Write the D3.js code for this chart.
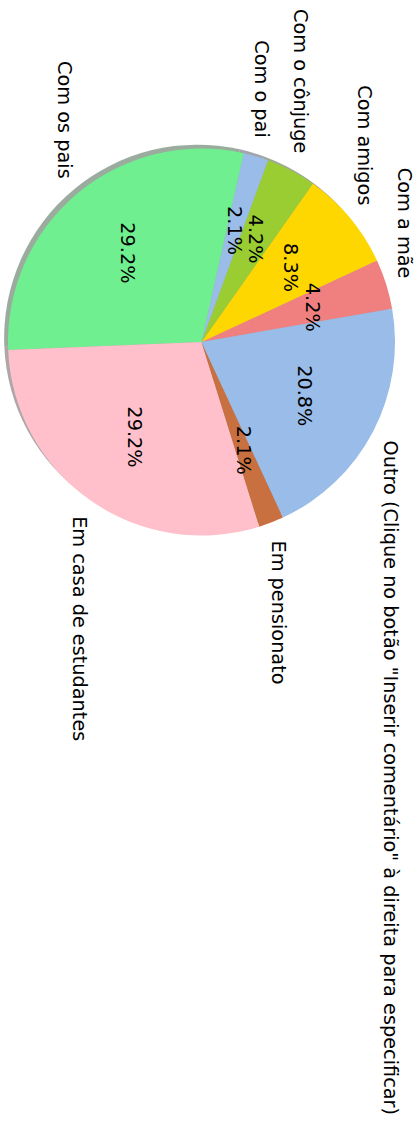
<!DOCTYPE html>
<html>
<head>
<meta charset="utf-8">
<script src="https://cdn.jsdelivr.net/npm/d3@7"></script>
<style>
  html, body { margin: 0; padding: 0; background: #ffffff; }
  svg { display: block; }
  text { font-family: "DejaVu Sans", sans-serif; fill: #000; }
</style>
</head>
<body>
<svg id="chart" width="417" height="1122"></svg>
<script>
// Where respondents live (counts of answers)
const categories = [
  "Com a mãe",
  "Com amigos",
  "Com o cônjuge",
  "Com o pai",
  "Com os pais",
  "Em casa de estudantes",
  "Em pensionato",
  "Outro (Clique no botão \"Inserir comentário\" à direita para especificar)"
];
const counts = [2, 4, 2, 1, 14, 14, 1, 10];
const sliceColors = ["#F08080", "#FFD700", "#9ACD32", "#99BCE8", "#6FEF8F", "#FFC0CB", "#C8703F", "#99BCE8"];

const W = 417, H = 1122;
const cx = 201.5, cy = 342, R = 193.5;
const fontSize = 19.3;
const deg = Math.PI / 180;

const total = d3.sum(counts);
const rows = categories.map((c, i) => ({ label: c, value: counts[i], color: sliceColors[i] }));

// The chart is drawn turned a quarter turn clockwise; slices run counter-clockwise on screen.
const start = 80.1 * deg;
const pie = d3.pie()
  .sort(null)
  .value(d => d.value)
  .startAngle(start)
  .endAngle(start - 2 * Math.PI);

const arcs = pie(rows);
const arc = d3.arc().innerRadius(0).outerRadius(R);

const svg = d3.select("#chart");
svg.append("rect").attr("width", W).attr("height", H).attr("fill", "#fff");

// Drop shadow under every wedge
const shadowOff = 0.02 * R;
const shadow = svg.append("g").attr("transform", `translate(${cx - shadowOff},${cy - shadowOff})`);
shadow.selectAll("path")
  .data(arcs)
  .join("path")
  .attr("d", arc)
  .attr("fill", d => {
    const c = d3.rgb(d.data.color);
    return d3.rgb(c.r * 0.3, c.g * 0.3, c.b * 0.3).formatHex();
  })
  .attr("fill-opacity", 0.45);

const g = svg.append("g").attr("transform", `translate(${cx},${cy})`);
g.selectAll("path.slice")
  .data(arcs)
  .join("path")
  .attr("class", "slice")
  .attr("d", arc)
  .attr("fill", d => d.data.color);

// Position on a ray at the slice's middle angle (d3 angles: clockwise from 12 o'clock)
function pointAt(d, r) {
  const a = (d.startAngle + d.endAngle) / 2;
  return [r * Math.sin(a), -r * Math.cos(a)];
}

// Category labels
g.selectAll("text.lab")
  .data(arcs)
  .join("text")
  .attr("class", "lab")
  .attr("font-family", "DejaVu Sans")
  .attr("transform", d => {
    const [x, y] = pointAt(d, 1.1 * R);
    return `translate(${x},${y}) rotate(90)`;
  })
  .attr("text-anchor", d => pointAt(d, 1)[1] > 0 ? "start" : "end")
  .attr("dominant-baseline", "central")
  .style("font-size", fontSize + "px")
  .text(d => d.data.label);

// Percentage labels
const pctFmt = v => (v / total * 100).toFixed(1) + "%";
g.selectAll("text.pct")
  .data(arcs)
  .join("text")
  .attr("class", "pct")
  .attr("font-family", "DejaVu Sans")
  .attr("transform", d => {
    const [x, y] = pointAt(d, 0.6 * R);
    return `translate(${x},${y}) rotate(90)`;
  })
  .attr("text-anchor", "middle")
  .attr("dominant-baseline", "central")
  .style("font-size", fontSize + "px")
  .text(d => pctFmt(d.data.value));
</script>
</body>
</html>
